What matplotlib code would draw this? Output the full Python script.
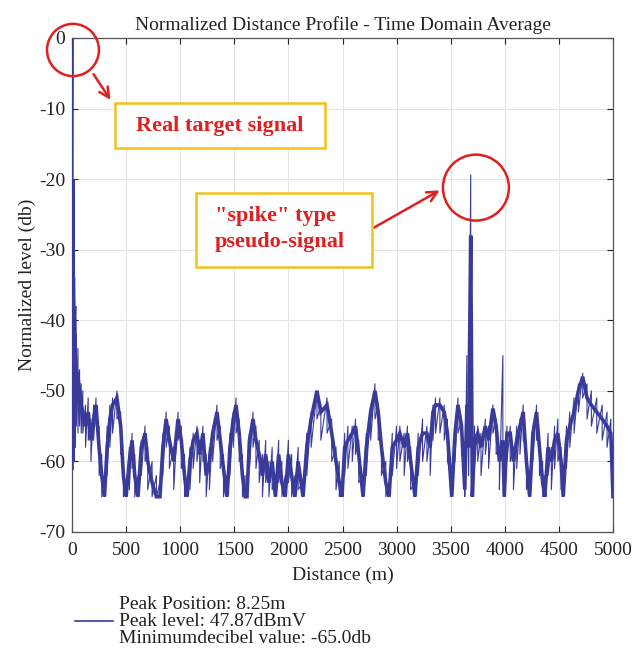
import numpy as np
import matplotlib
matplotlib.use('Agg')
import matplotlib.pyplot as plt
from matplotlib.patches import Ellipse, Rectangle

plt.rcParams['font.family'] = ['Liberation Serif', 'DejaVu Serif']
plt.rcParams['axes.unicode_minus'] = False

# distance knots (m)
dist = [0, 8.25, 12, 18, 24, 30, 40, 55, 70, 85,
        100, 125, 150, 175, 200, 222, 250, 275, 300, 325, 350, 375, 415, 450, 475, 500,
        530, 555, 580, 610, 640, 675, 700, 740, 780, 813, 840, 870, 900, 940, 980,
        1010, 1040, 1063, 1090, 1120, 1155, 1180, 1210, 1240, 1270, 1300, 1340, 1370,
        1400, 1433, 1460, 1490, 1516, 1545, 1575, 1600, 1617, 1640, 1673, 1700, 1730,
        1760, 1790, 1820, 1850, 1880, 1910, 1940, 1970, 2000, 2030, 2060, 2090, 2135,
        2170, 2210, 2264, 2300, 2357, 2400, 2440, 2470, 2495, 2520, 2550, 2590, 2620,
        2650, 2690, 2720, 2760, 2800, 2830, 2860, 2900, 2930, 2960, 3000, 3030, 3070,
        3100, 3130, 3170, 3200, 3240, 3280, 3310, 3336, 3360, 3400, 3440, 3470, 3510,
        3540, 3567, 3600, 3630, 3650, 3665, 3685, 3700, 3720, 3750, 3780, 3820, 3850,
        3890, 3920, 3950, 3982, 3995, 4020, 4050, 4080, 4110, 4140, 4170, 4200, 4230,
        4260, 4293, 4320, 4350, 4370, 4400, 4430, 4460, 4490, 4520, 4540, 4570, 4600,
        4640, 4680, 4720, 4760, 4800, 4850, 4900, 4945, 4980, 5000]
# smoothed level of the trace (db)
level = [-61, -20, -35, -40, -38, -45, -47, -48, -50, -52,
         -53, -55, -53, -57, -54, -52, -58, -62, -65, -58, -54, -52, -51, -55, -62, -65,
         -60, -57, -62, -65, -58, -56, -60, -63, -65, -65, -58, -54, -57, -60, -54,
         -57, -62, -65, -60, -57, -56, -59, -56, -62, -60, -56, -53, -57,
         -61, -65, -58, -54, -52, -56, -62, -65, -65, -57, -54, -57, -59,
         -62, -59, -63, -60, -65, -59, -63, -65, -59, -62, -65, -60, -65,
         -58, -54, -50, -53, -52, -56, -60, -63, -65, -58, -57, -56, -55,
         -59, -65, -58, -53, -50, -53, -58, -63, -65, -58, -57, -56, -58,
         -56, -60, -65, -58, -56, -56, -58, -53, -52, -52, -53, -56, -65,
         -56, -52, -55, -64, -52, -58, -28, -65, -57, -56, -58, -55, -57,
         -52.5, -55, -60, -57, -65, -56, -56, -60, -57, -55, -53, -60, -65,
         -56, -53, -58, -63, -65, -58, -60, -57, -56, -60, -65, -57, -55,
         -53, -50, -48, -51, -52, -53, -54, -55, -56, -65]
# upper / lower edge of the noisy trace (db)
upper = [-61, 0, -30, -36, -34, -40, -42, -44, -47, -49,
         -50, -52, -51, -54, -52, -51, -55, -59, -62, -55, -52, -51, -50, -53, -59, -63,
         -58, -56, -59, -62, -57, -55, -58, -60, -62, -63, -56, -53, -55, -58, -53,
         -55, -59, -63, -58, -56, -55, -57, -55, -59, -58, -55, -52, -55,
         -59, -62, -56, -53, -51, -54, -59, -62, -63, -56, -53, -55, -57,
         -59, -57, -60, -58, -62, -57, -60, -62, -57, -59, -62, -58, -63,
         -56, -53, -50, -52, -51, -54, -58, -60, -63, -56, -55, -55, -54,
         -57, -62, -56, -52, -49, -52, -56, -60, -63, -56, -55, -55, -56,
         -55, -58, -63, -56, -54, -55, -56, -52, -51, -51, -52, -54, -62,
         -55, -51, -54, -60, -45, -56, -19.4, -60, -55, -55, -56, -54, -55,
         -52, -54, -58, -45, -62, -55, -55, -58, -55, -54, -52, -58, -62,
         -55, -52, -56, -60, -62, -56, -58, -55, -54, -58, -62, -55, -53,
         -51, -49, -47.5, -49, -50, -51, -52, -53, -54, -60]
lower = [-61, -20, -55, -60, -56, -58, -55, -56, -55, -56,
         -56, -58, -57, -60, -57, -55, -62, -65, -65, -62, -58, -56, -54, -59, -65, -65,
         -64, -61, -65, -65, -62, -60, -64, -65, -65, -65, -62, -58, -61, -64, -57,
         -61, -65, -65, -64, -61, -60, -63, -60, -65, -64, -60, -57, -61,
         -65, -65, -62, -58, -56, -60, -65, -65, -65, -61, -58, -61, -63,
         -65, -63, -65, -64, -65, -63, -65, -65, -63, -65, -65, -64, -65,
         -62, -58, -54, -57, -56, -60, -64, -65, -65, -62, -61, -60, -59,
         -63, -65, -62, -57, -54, -57, -62, -65, -65, -62, -61, -60, -62,
         -60, -64, -65, -62, -60, -60, -62, -57, -56, -56, -57, -60, -65,
         -60, -56, -59, -65, -58, -62, -55, -65, -61, -60, -62, -59, -61,
         -56, -59, -64, -60, -65, -60, -60, -64, -61, -59, -57, -64, -65,
         -60, -57, -62, -65, -65, -62, -64, -61, -60, -64, -65, -61, -58,
         -56, -53, -51, -54, -55, -56, -57, -58, -60, -65]

x_ticks = [0, 500, 1000, 1500, 2000, 2500, 3000, 3500, 4000, 4500, 5000]
y_ticks = [0, -10, -20, -30, -40, -50, -60, -70]
legend_text = 'Peak Position: 8.25m\nPeak level: 47.87dBmV\nMinimumdecibel value: -65.0db'

# zigzag between the upper and lower edge at every knot
xs = np.repeat(dist, 2)
ys = np.column_stack([upper, lower]).ravel()

blue = '#3a3a9a'
fig = plt.figure(figsize=(6.33, 6.52), dpi=100)
ax = fig.add_axes([72/633, 1-532/652, 541/633, 494/652])
line, = ax.plot(dist, level, color=blue, linewidth=2.6, zorder=3,
                solid_joinstyle='miter')
ax.plot(xs, ys, color=blue, linewidth=0.8, zorder=3)

ax.set_xlim(0, 5000)
ax.set_ylim(-70, 0)
ax.set_xticks(x_ticks)
ax.set_yticks(y_ticks)
ax.grid(True, color='#e4e4e4', linewidth=0.8)
ax.set_axisbelow(True)
ax.tick_params(direction='in', top=True, right=True, labelsize=14, colors='#222222',
               length=4, width=0.8)
ax.tick_params(axis='x', pad=7)
ax.tick_params(axis='y', pad=5)
for s in ax.spines.values():
    s.set_color('#555555')
    s.set_linewidth(0.9)

ax.set_title('Normalized Distance Profile - Time Domain Average', fontsize=14,
             color='#222222', pad=6)
ax.set_xlabel('Distance (m)', fontsize=14, color='#222222', labelpad=6)
ax.set_ylabel('Normalized level (db)', fontsize=14, color='#222222', labelpad=2)

# annotations
red = '#e02020'
gold = '#f2c21b'
ax.add_patch(Ellipse((9, -1.7), 480, 7.4, fill=False, edgecolor=red, linewidth=1.8,
                     clip_on=False, zorder=5))
ax.add_patch(Ellipse((3733, -21.2), 610, 9.35, fill=False, edgecolor=red, linewidth=1.8,
                     clip_on=False, zorder=5))
ax.annotate('', xy=(370, -9.1), xytext=(185, -4.8),
            arrowprops=dict(arrowstyle='->', color=red, lw=1.8, mutation_scale=18))
ax.annotate('', xy=(3420, -21.4), xytext=(2770, -27.05),
            arrowprops=dict(arrowstyle='->', color=red, lw=1.8, mutation_scale=18))
ax.add_patch(Rectangle((397, -15.6), 1941, 6.4, fill=True, facecolor='white',
                       edgecolor=gold, linewidth=1.8, zorder=4))
ax.text(1367, -12.5, 'Real target signal', color=red, fontsize=16, fontweight='bold',
        ha='center', va='center', zorder=6)
ax.add_patch(Rectangle((1146, -32.5), 1625, 10.5, fill=True, facecolor='white',
                       edgecolor=gold, linewidth=1.8, zorder=4))
ax.text(1320, -27.0, '"spike" type\npseudo-signal', color=red, fontsize=16,
        fontweight='bold', ha='left', va='center', linespacing=1.4, zorder=6)

leg = fig.legend([line], [legend_text], loc='upper left',
                 bbox_to_anchor=(75/633, 1-596/652), frameon=False, fontsize=14,
                 borderpad=0, borderaxespad=0, handlelength=1.95, handletextpad=0.3)
for t in leg.get_texts():
    t.set_linespacing(1.0)
    t.set_color('#222222')
leg.get_lines()[0].set_linewidth(1.2)

fig.savefig('out.png', dpi=100)
